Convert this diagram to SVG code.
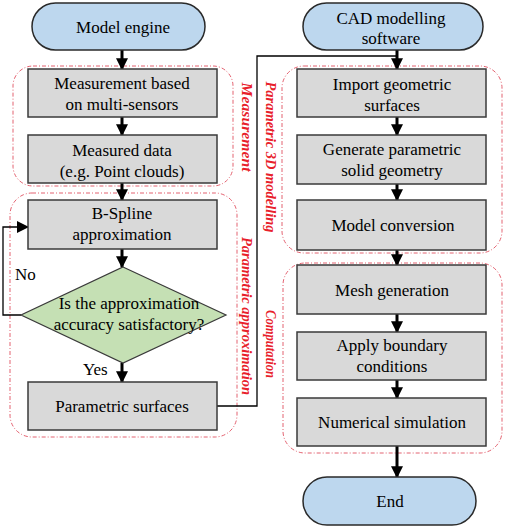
<svg xmlns="http://www.w3.org/2000/svg" width="510" height="529" viewBox="0 0 510 529">
<defs>
<marker id="ah" markerWidth="4" markerHeight="4" refX="3.6" refY="2" orient="auto" markerUnits="strokeWidth">
<path d="M0,0 L4,2 L0,4 z" fill="#000"/>
</marker>
<marker id="ah2" markerWidth="12" markerHeight="12" refX="11" refY="6" orient="auto" markerUnits="userSpaceOnUse">
<path d="M0,0 L12,6 L0,12 z" fill="#000"/>
</marker>
<style>
.box{fill:#d9d9d9;stroke:#3a3a3a;stroke-width:1.5}
.term{fill:#bdd7ee;stroke:#2a2a2a;stroke-width:1.5}
.dia{fill:#c5e0b4;stroke:#3a3a3a;stroke-width:1.2}
.grp{fill:none;stroke:#e05060;stroke-width:0.9;stroke-dasharray:4 2 1 2}
.t{font-family:"Liberation Serif","Times New Roman",serif;font-size:17px;fill:#000;text-anchor:middle}
.tl{font-family:"Liberation Serif","Times New Roman",serif;font-size:17px;fill:#000}
.lbl{font-family:"Liberation Serif","Times New Roman",serif;font-size:15px;font-weight:bold;font-style:italic;fill:#e8202a;text-anchor:middle}
.arr{stroke:#000;stroke-width:3;fill:none;marker-end:url(#ah)}
.ln{stroke:#000;stroke-width:1.3;fill:none}
</style>
</defs>

<g id="groups">
<g id="grp-measurement">
<rect class="grp" x="13" y="66" width="220" height="120" rx="20"/>
<text class="lbl" transform="translate(242,127) rotate(90)" textLength="89" lengthAdjust="spacingAndGlyphs">Measurement</text>
</g>
<g id="grp-param-approx">
<rect class="grp" x="10" y="193" width="227" height="244" rx="22"/>
<text class="lbl" transform="translate(242,316) rotate(90)" textLength="158" lengthAdjust="spacingAndGlyphs">Parametric approximation</text>
</g>
<g id="grp-param-3d">
<rect class="grp" x="282" y="66" width="220" height="187" rx="22"/>
<text class="lbl" transform="translate(266,157) rotate(90)" textLength="151" lengthAdjust="spacingAndGlyphs">Parametric 3D modelling</text>
</g>
<g id="grp-computation">
<rect class="grp" x="283" y="263" width="219" height="190" rx="22"/>
<text class="lbl" transform="translate(266,344) rotate(90)" textLength="68" lengthAdjust="spacingAndGlyphs">Computation</text>
</g>
</g>

<g id="connectors">
<line class="arr" x1="122" y1="50" x2="122" y2="69"/>
<line class="arr" x1="122" y1="117" x2="122" y2="135"/>
<line class="arr" x1="122" y1="183" x2="122" y2="200"/>
<line class="arr" x1="122" y1="249" x2="122" y2="267"/>
<line class="arr" x1="122" y1="363" x2="122" y2="382"/>
<polyline class="ln" points="21,315 3,315 3,227 28,227" stroke-width="1.6" marker-end="url(#ah2)"/>
<polyline class="ln" points="217,406 257,406 257,56 397,56"/>
<line class="arr" x1="397" y1="50" x2="397" y2="69"/>
<line class="arr" x1="397" y1="117" x2="397" y2="135"/>
<line class="arr" x1="397" y1="184" x2="397" y2="200"/>
<line class="arr" x1="397" y1="250" x2="397" y2="265"/>
<line class="arr" x1="397" y1="314" x2="397" y2="332"/>
<line class="arr" x1="397" y1="380" x2="397" y2="398"/>
<line class="arr" x1="397" y1="446" x2="397" y2="477"/>
<text class="tl" x="15" y="280">No</text>
<text class="tl" x="83" y="375">Yes</text>
</g>

<g id="model-engine">
<rect class="term" x="32" y="3" width="173" height="47" rx="23.5"/>
<text class="t" x="123" y="33">Model engine</text>
</g>
<g id="measurement-sensors">
<rect class="box" x="28" y="69" width="189" height="48"/>
<text class="t" x="122" y="89">Measurement based</text>
<text class="t" x="122" y="110">on multi-sensors</text>
</g>
<g id="measured-data">
<rect class="box" x="28" y="135" width="189" height="48"/>
<text class="t" x="122" y="156">Measured data</text>
<text class="t" x="122" y="177">(e.g. Point clouds)</text>
</g>
<g id="bspline">
<rect class="box" x="28" y="200" width="189" height="49"/>
<text class="t" x="122" y="219">B-Spline</text>
<text class="t" x="122" y="240">approximation</text>
</g>
<g id="decision">
<polygon class="dia" points="123,267 226,315 123,363 21,315"/>
<text class="t" x="129" y="309">Is the approximation</text>
<text class="t" x="129" y="330">accuracy satisfactory?</text>
</g>
<g id="param-surfaces">
<rect class="box" x="28" y="382" width="189" height="48"/>
<text class="t" x="122" y="412">Parametric surfaces</text>
</g>

<g id="cad-software">
<rect class="term" x="303" y="3" width="180" height="47" rx="23.5"/>
<text class="t" x="391" y="24">CAD modelling</text>
<text class="t" x="391" y="44">software</text>
</g>
<g id="import-surfaces">
<rect class="box" x="297" y="69" width="189" height="48"/>
<text class="t" x="392" y="90">Import geometric</text>
<text class="t" x="392" y="111">surfaces</text>
</g>
<g id="generate-solid">
<rect class="box" x="297" y="135" width="189" height="49"/>
<text class="t" x="392" y="155">Generate parametric</text>
<text class="t" x="392" y="176">solid geometry</text>
</g>
<g id="model-conversion">
<rect class="box" x="297" y="200" width="189" height="50"/>
<text class="t" x="393" y="231">Model conversion</text>
</g>
<g id="mesh-generation">
<rect class="box" x="297" y="265" width="189" height="49"/>
<text class="t" x="392" y="296">Mesh generation</text>
</g>
<g id="boundary-conditions">
<rect class="box" x="297" y="332" width="189" height="48"/>
<text class="t" x="392" y="351">Apply boundary</text>
<text class="t" x="392" y="372">conditions</text>
</g>
<g id="numerical-simulation">
<rect class="box" x="297" y="398" width="189" height="48"/>
<text class="t" x="392" y="428">Numerical simulation</text>
</g>
<g id="end">
<rect class="term" x="303" y="477" width="173" height="48" rx="24"/>
<text class="t" x="390" y="507">End</text>
</g>
</svg>
